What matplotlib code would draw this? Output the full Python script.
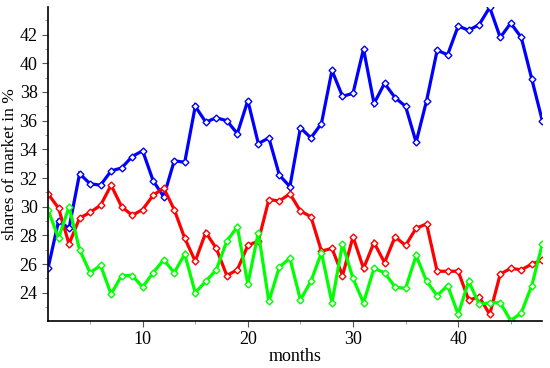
import matplotlib
matplotlib.use("Agg")
from matplotlib import pyplot as plt
from matplotlib.ticker import MultipleLocator
import numpy as np

# market shares per month
months = list(range(1, 49))

blue = [25.7, 29.0, 28.5, 32.3, 31.6, 31.5, 32.5, 32.7, 33.5, 33.9,
        31.8, 30.7, 33.2, 33.1, 37.0, 35.9, 36.2, 36.0, 35.1, 37.4,
        34.4, 34.8, 32.2, 31.4, 35.5, 34.8, 35.8, 39.5, 37.7, 37.9,
        41.0, 37.2, 38.6, 37.6, 37.0, 34.5, 37.4, 40.9, 40.6, 42.6,
        42.3, 42.7, 43.9, 41.8, 42.8, 41.8, 38.9, 36.0]

red = [30.9, 29.9, 27.4, 29.2, 29.6, 30.1, 31.5, 30.0, 29.4, 29.8,
       30.8, 31.3, 29.8, 27.8, 26.2, 28.2, 27.1, 25.2, 25.6, 27.3,
       27.6, 30.5, 30.4, 30.9, 29.7, 29.3, 26.9, 27.1, 25.2, 27.9,
       25.7, 27.5, 26.1, 27.9, 27.3, 28.5, 28.8, 25.5, 25.5, 25.5,
       23.5, 23.7, 22.5, 25.3, 25.7, 25.6, 26.0, 26.3]

green = [29.8, 27.8, 30.0, 27.0, 25.4, 25.9, 23.9, 25.2, 25.2, 24.4,
         25.4, 26.3, 25.4, 26.7, 24.0, 24.8, 25.6, 27.6, 28.6, 24.6,
         28.2, 23.4, 25.8, 26.4, 23.5, 24.8, 26.8, 23.3, 27.4, 25.0,
         23.3, 25.7, 25.4, 24.4, 24.3, 26.6, 24.8, 23.8, 24.5, 22.5,
         24.8, 23.2, 23.3, 23.3, 22.05, 22.6, 24.5, 27.4]

plt.rcParams['font.family'] = ['Liberation Serif', 'DejaVu Serif']

fig = plt.figure(figsize=(5.5, 3.68), dpi=100)
ax = fig.add_axes([0.0873, 0.1285, 0.8987, 0.8515])

for vals, col in [(blue, '#0000ff'), (red, '#ff0000'), (green, '#00ff00')]:
    ax.plot(months, vals, color=col, lw=2.3, marker='D', ms=3.5,
            mfc='white', mec=col, mew=1.0, solid_joinstyle='miter')

allv = np.concatenate([blue, red, green])
ax.set_xlim(1, 48)
ax.set_ylim(allv.min(), allv.max())

ax.xaxis.set_major_locator(MultipleLocator(10))
ax.xaxis.set_minor_locator(MultipleLocator(5))
ax.yaxis.set_major_locator(MultipleLocator(2))
ax.yaxis.set_minor_locator(MultipleLocator(1))
ax.tick_params(which='major', length=4, width=0.8, labelsize=13, color='#555555')
ax.tick_params(which='minor', length=2, width=0.6, color='#888888')

for s in ['top', 'right']:
    ax.spines[s].set_visible(False)
for s in ['left', 'bottom']:
    ax.spines[s].set_linewidth(1.2)

ax.set_xlabel('months', fontsize=13, labelpad=0)
ax.set_ylabel('shares of market in %', fontsize=12.5, labelpad=1)

fig.savefig('out.png', dpi=100)
